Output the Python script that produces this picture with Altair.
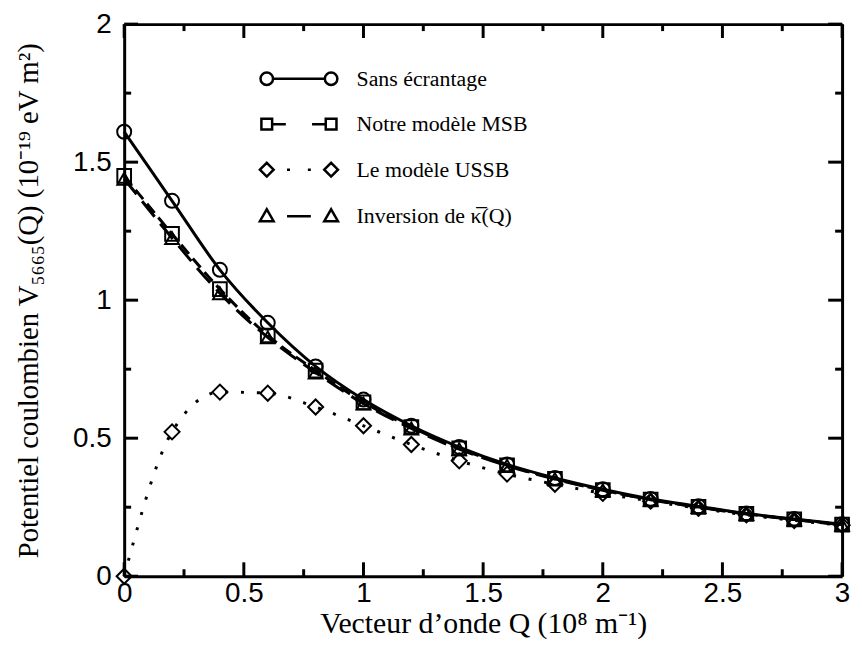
import altair as alt
import pandas as pd

# ---- data ----
q_values = [0.0, 0.2, 0.4, 0.6, 0.8, 1.0, 1.2, 1.4, 1.6, 1.8, 2.0, 2.2, 2.4, 2.6, 2.8, 3.0]
sans_ecrantage = [1.61, 1.36, 1.11, 0.918, 0.76, 0.64, 0.545, 0.468, 0.405, 0.356, 0.315, 0.28, 0.253, 0.227, 0.207, 0.188]
modele_msb = [1.45, 1.24, 1.04, 0.872, 0.745, 0.63, 0.54, 0.463, 0.402, 0.353, 0.312, 0.278, 0.251, 0.226, 0.206, 0.187]
modele_ussb = [0.0, 0.523, 0.667, 0.663, 0.613, 0.545, 0.477, 0.418, 0.37, 0.333, 0.30, 0.272, 0.246, 0.222, 0.202, 0.185]
inversion_kappa = [1.44, 1.225, 1.025, 0.865, 0.738, 0.625, 0.535, 0.46, 0.40, 0.352, 0.311, 0.277, 0.25, 0.225, 0.205, 0.186]

series_labels = ["Sans écrantage", "Notre modèle MSB", "Le modèle USSB", "Inversion de κ̅(Q)"]
x_tick_labels = [0, 0.5, 1, 1.5, 2, 2.5, 3]
y_tick_labels = [0, 0.5, 1, 1.5, 2]
x_minor_ticks = [0.25, 0.75, 1.25, 1.75, 2.25, 2.75]
y_minor_ticks = [0.25, 0.75, 1.25, 1.75]

X_DOMAIN = [0, 3]
Y_DOMAIN = [0, 2]

rows = []
for lab, vals in zip(series_labels, [sans_ecrantage, modele_msb, modele_ussb, inversion_kappa]):
    for xv, yv in zip(q_values, vals):
        rows.append({"Q": xv, "V": yv, "series": lab})
df = pd.DataFrame(rows)

W, H = 723, 556
MAJOR_PX, MINOR_PX = 14, 7
xs = alt.Scale(domain=X_DOMAIN, nice=False, zero=False)
ys = alt.Scale(domain=Y_DOMAIN, nice=False, zero=False)

# inward tick marks (bottom/top for x, left/right for y), lengths converted to data units
yu = (Y_DOMAIN[1] - Y_DOMAIN[0]) / H
xu = (X_DOMAIN[1] - X_DOMAIN[0]) / W
vt = []
for t in x_tick_labels + x_minor_ticks:
    ln = MAJOR_PX if t in x_tick_labels else MINOR_PX
    vt.append({"t": t, "a": Y_DOMAIN[0], "b": Y_DOMAIN[0] + ln * yu})
    vt.append({"t": t, "a": Y_DOMAIN[1], "b": Y_DOMAIN[1] - ln * yu})
ht = []
for t in y_tick_labels + y_minor_ticks:
    ln = MAJOR_PX if t in y_tick_labels else MINOR_PX
    ht.append({"t": t, "a": X_DOMAIN[0], "b": X_DOMAIN[0] + ln * xu})
    ht.append({"t": t, "a": X_DOMAIN[1], "b": X_DOMAIN[1] - ln * xu})
vt_df = pd.DataFrame(vt)
ht_df = pd.DataFrame(ht)


def frame_axis(orient, offset):
    return alt.Axis(orient=orient, offset=offset, labels=False, domain=True, domainColor="black",
                    domainWidth=3, grid=False, ticks=False, title=None)


x_main = alt.Axis(orient="bottom", values=x_tick_labels, format="~g", ticks=False, domain=True,
                  domainColor="black", domainWidth=3, grid=False,
                  labelFont="Liberation Sans", labelFontSize=28, labelColor="black", labelPadding=3,
                  labelFlush=False,
                  title="Vecteur d’onde Q (10⁸ m⁻¹)", titleFont="Liberation Serif", titleFontSize=30,
                  titleFontWeight="normal", titleColor="black", titlePadding=2)
y_main = alt.Axis(orient="left", values=y_tick_labels, format="~g", ticks=False, domain=True,
                  domainColor="black", domainWidth=3, grid=False,
                  labelFont="Liberation Sans", labelFontSize=28, labelColor="black", labelPadding=13,
                  labelFlush=False,
                  title="Potentiel coulombien V₅₆₆₅(Q) (10⁻¹⁹ eV m²)", titleFont="Liberation Serif",
                  titleFontSize=29, titleFontWeight="normal", titleColor="black", titlePadding=29)

axes_pairs = [
    (x_main, y_main),
    (frame_axis("bottom", -H), frame_axis("left", -W)),
    (None, None),
    (None, None),
]

line_styles = [
    (series_labels[0], {}),
    (series_labels[1], {"strokeDash": [12, 6]}),
    (series_labels[2], {"strokeDash": [3, 13]}),
    (series_labels[3], {"strokeDash": [20, 9]}),
]
marker_styles = [
    (series_labels[0], "circle", 200),
    (series_labels[1], "square", 190),
    (series_labels[2], "diamond", 230),
    (series_labels[3], "triangle-up", 190),
]

layers = []
for i, (lab, style) in enumerate(line_styles):
    xa, ya = axes_pairs[i]
    layers.append(
        alt.Chart(df).transform_filter(alt.datum.series == lab)
        .mark_line(color="black", strokeWidth=3, interpolate="monotone", **style)
        .encode(x=alt.X("Q:Q", scale=xs, axis=xa), y=alt.Y("V:Q", scale=ys, axis=ya))
    )

for lab, shp, sz in marker_styles:
    layers.append(
        alt.Chart(df).transform_filter(alt.datum.series == lab)
        .mark_point(shape=shp, filled=False, color="black", strokeWidth=2, size=sz, opacity=1)
        .encode(x=alt.X("Q:Q", scale=xs, axis=None), y=alt.Y("V:Q", scale=ys, axis=None))
    )

layers.append(
    alt.Chart(vt_df).mark_rule(color="black", strokeWidth=3).encode(
        x=alt.X("t:Q", scale=xs, axis=None), y=alt.Y("a:Q", scale=ys, axis=None), y2="b:Q"))
layers.append(
    alt.Chart(ht_df).mark_rule(color="black", strokeWidth=3).encode(
        y=alt.Y("t:Q", scale=ys, axis=None), x=alt.X("a:Q", scale=xs, axis=None), x2="b:Q"))

legend_paths = [
    "M-4.35,0A1.05,1.05,0,1,1,-6.45,0A1.05,1.05,0,1,1,-4.35,0M-4.35,0L4.35,0"
    "M6.45,0A1.05,1.05,0,1,1,4.35,0A1.05,1.05,0,1,1,6.45,0",
    "M-6.3,-0.9L-4.5,-0.9L-4.5,0.9L-6.3,0.9ZM-4.5,0L-2.2,0M2.2,0L4.5,0"
    "M4.5,-0.9L6.3,-0.9L6.3,0.9L4.5,0.9Z",
    "M-6.55,0L-5.4,-1.15L-4.25,0L-5.4,1.15ZM-2,0L-1.5,0M1.5,0L2,0"
    "M4.25,0L5.4,-1.15L6.55,0L5.4,1.15Z",
    "M-6.55,0.85L-4.25,0.85L-5.4,-1.15ZM-2,0L2,0"
    "M4.25,0.85L6.55,0.85L5.4,-1.15Z",
]

legend_layer = (
    alt.Chart(df).transform_filter("false")
    .mark_point(color="black", filled=False, strokeWidth=2.5, opacity=1)
    .encode(
        x=alt.X("Q:Q", scale=xs, axis=None),
        y=alt.Y("V:Q", scale=ys, axis=None),
        shape=alt.Shape("series:N", scale=alt.Scale(domain=series_labels, range=legend_paths),
                        legend=alt.Legend(orient="none", legendX=165, legendY=44, title=None,
                                          padding=0, symbolSize=144, symbolStrokeWidth=2.5,
                                          symbolStrokeColor="black", symbolFillColor="transparent",
                                          symbolOpacity=1,
                                          labelFont="Liberation Serif", labelFontSize=22,
                                          labelColor="black", labelOffset=47, rowPadding=22.8,
                                          labelLimit=400)),
    )
)
layers.append(legend_layer)

chart = (
    alt.layer(*layers)
    .resolve_axis(x="independent", y="independent")
    .properties(width=W, height=H, autosize=alt.AutoSizeParams(type="none"),
                padding={"left": 117, "top": 14, "right": 12, "bottom": 62})
)

chart.save("out.html", embed_options={"renderer": "svg", "actions": False})
